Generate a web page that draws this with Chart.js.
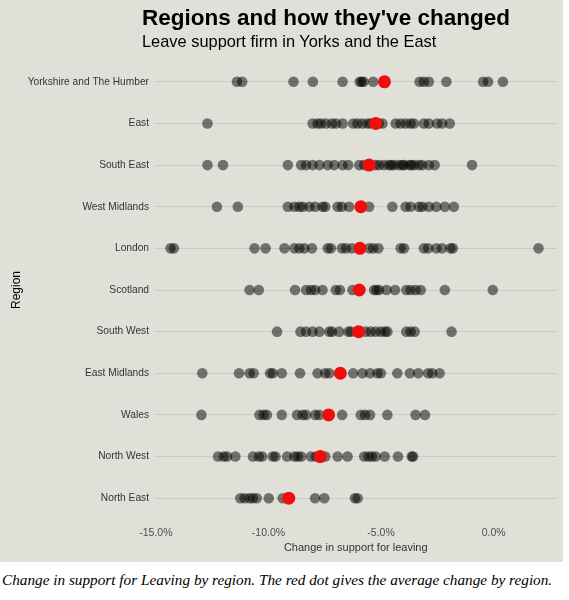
<!DOCTYPE html>
<html>
<head>
<meta charset="utf-8">
<script src="https://cdn.jsdelivr.net/npm/chart.js@4/dist/chart.umd.min.js"></script>
<style>
    body { margin: 0; background: #ffffff; }
    #panel { position: absolute; left: 0; top: 0; width: 563px; height: 562px; background: #e0e0d8; }
    #chartBox { position: absolute; left: 0; top: 0; width: 563px; height: 562px; }
    #title { position: absolute; left: 142px; top: 5px; font: bold 22.5px "Liberation Sans", Arial, sans-serif; color: #000; white-space: nowrap; }
    #subtitle { position: absolute; left: 142px; top: 32px; font: 16.4px "Liberation Sans", Arial, sans-serif; color: #000; white-space: nowrap; }
    #caption { position: absolute; left: 2px; top: 571px; font: italic 15.25px "Liberation Serif", serif; color: #000; white-space: nowrap; }
</style>
</head>
<body>
<div id="panel">
    <div id="chartBox"><canvas id="dotChart"></canvas></div>
    <div id="title">Regions and how they've changed</div>
    <div id="subtitle">Leave support firm in Yorks and the East</div>
</div>
<div id="caption">Change in support for Leaving by region. The red dot gives the average change by region.</div>
<script>
// regions top to bottom
const regions = ['Yorkshire and The Humber', 'East', 'South East', 'West Midlands', 'London',
    'Scotland', 'South West', 'East Midlands', 'Wales', 'North West', 'North East'];

// change in leave support (%) per local area
const yorkshire = [-11.40, -11.17, -8.89, -8.03, -6.71, -5.95, -5.86, -5.78, -5.35, -3.29, -3.10, -2.88, -2.10, -0.47, -0.25, 0.41];
const east = [-12.71, -8.04, -7.82, -7.67, -7.45, -7.18, -7.00, -6.71, -6.24, -6.05, -5.83, -5.60, -5.46, -5.10, -4.94,
    -4.35, -4.13, -3.91, -3.69, -3.54, -3.10, -2.88, -2.51, -2.29, -1.95];
const southEast = [-12.71, -12.02, -9.14, -8.55, -8.33, -8.04, -7.74, -7.37, -7.08, -6.71, -6.46, -5.97, -5.75, -5.26,
    -5.09, -4.87, -4.65, -4.42, -4.20, -3.98, -3.76, -3.54, -3.32, -3.17, -4.55, -4.05, -3.65, -2.88, -2.62, -0.96];
const westMidlands = [-12.29, -11.36, -9.14, -8.85, -8.63, -8.48, -8.19, -7.93, -7.60, -7.48, -6.93, -6.74, -6.42, -5.53,
    -4.50, -3.91, -3.69, -3.32, -3.17, -2.88, -2.55, -2.17, -1.77];
const london = [-14.35, -14.20, -10.62, -10.13, -9.29, -8.85, -8.63, -8.41, -8.07, -7.37, -7.23, -6.74, -6.56, -6.30,
    -5.53, -5.35, -5.12, -4.13, -3.98, -3.10, -2.91, -2.55, -2.29, -1.92, -1.81, 1.99];
const scotland = [-10.84, -10.43, -8.82, -8.33, -8.11, -7.93, -7.60, -7.01, -6.83, -6.27, -5.31, -5.20, -5.09, -4.76,
    -4.38, -3.88, -3.69, -3.47, -3.24, -2.17, -0.04];
const southWest = [-9.62, -8.58, -8.33, -8.04, -7.74, -7.30, -7.18, -6.86, -6.45, -6.34, -5.68, -5.46, -5.24, -5.01,
    -4.82, -4.72, -3.88, -3.69, -3.51, -1.87];
const eastMidlands = [-12.94, -11.31, -10.84, -10.66, -9.93, -9.81, -9.41, -8.60, -7.82, -7.48, -7.30, -6.24, -5.83,
    -5.49, -5.16, -5.01, -4.28, -3.72, -3.35, -2.91, -2.73, -2.40];
const wales = [-12.98, -10.40, -10.21, -10.07, -9.41, -8.73, -8.48, -8.33, -7.92, -7.74, -6.73, -5.90, -5.71, -5.49,
    -4.72, -3.47, -3.05];
const northWest = [-12.24, -11.99, -11.84, -11.47, -10.69, -10.43, -10.28, -9.81, -9.69, -9.17, -8.85, -8.70, -8.55,
    -8.11, -7.89, -7.48, -6.93, -6.49, -5.75, -5.56, -5.41, -5.24, -4.84, -4.25, -3.64, -3.58];
const northEast = [-11.25, -11.06, -10.84, -10.69, -10.52, -9.99, -9.37, -7.93, -7.52, -6.16, -6.04];

const areaChanges = [yorkshire, east, southEast, westMidlands, london, scotland, southWest, eastMidlands, wales, northWest, northEast];

// regional averages (red dots)
const averages = [-4.85, -5.24, -5.53, -5.90, -5.94, -5.97, -6.00, -6.81, -7.33, -7.70, -9.10];

const xTicks = [-15, -10, -5, 0];

const areaPoints = [];
areaChanges.forEach(function (list, i) {
    list.forEach(function (v) {
        areaPoints.push({ x: v, y: regions[i] });
    });
});
const averagePoints = averages.map(function (v, i) {
    return { x: v, y: regions[i] };
});

const ctx = document.getElementById('dotChart').getContext('2d');
const chart = new Chart(ctx, {
    type: 'scatter',
    data: {
        datasets: [
            {
                // first dataset is drawn on top
                label: 'Average',
                data: averagePoints,
                backgroundColor: '#f20d0d',
                borderWidth: 0,
                pointRadius: 6.5
            },
            {
                label: 'Areas',
                data: areaPoints,
                backgroundColor: 'rgba(0,0,0,0.5)',
                borderWidth: 0,
                pointRadius: 5.3
            }
        ]
    },
    options: {
        responsive: true,
        maintainAspectRatio: false,
        animation: false,
        layout: { padding: { top: 61, right: 5, bottom: 0, left: 0 } },
        plugins: {
            legend: { display: false },
            tooltip: { enabled: false }
        },
        scales: {
            x: {
                type: 'linear',
                min: -15.04,
                max: 2.79,
                afterBuildTicks: function (scale) {
                    scale.ticks = xTicks.map(function (v) { return { value: v }; });
                },
                afterFit: function (scale) { scale.height = 43; },
                grid: { display: false, drawTicks: false },
                border: { display: false },
                ticks: {
                    padding: 8,
                    color: '#4d4d4d',
                    font: { family: 'Liberation Sans', size: 10.5 },
                    callback: function (value) { return value.toFixed(1) + '%'; }
                },
                title: {
                    display: true,
                    text: 'Change in support for leaving',
                    color: '#333333',
                    font: { family: 'Liberation Sans', size: 11 },
                    padding: { top: 4, bottom: 7 }
                }
            },
            y: {
                type: 'category',
                labels: regions,
                offset: true,
                afterFit: function (scale) { scale.width = 155; },
                grid: { color: '#cbcbc4', lineWidth: 1, drawTicks: false },
                border: { display: false },
                ticks: {
                    padding: 6,
                    color: '#333333',
                    font: { family: 'Liberation Sans', size: 10.2 }
                },
                title: {
                    display: true,
                    text: 'Region',
                    color: '#000000',
                    font: { family: 'Liberation Sans', size: 12 },
                    padding: { top: 9, bottom: 4 }
                }
            }
        }
    }
});
</script>
</body>
</html>
